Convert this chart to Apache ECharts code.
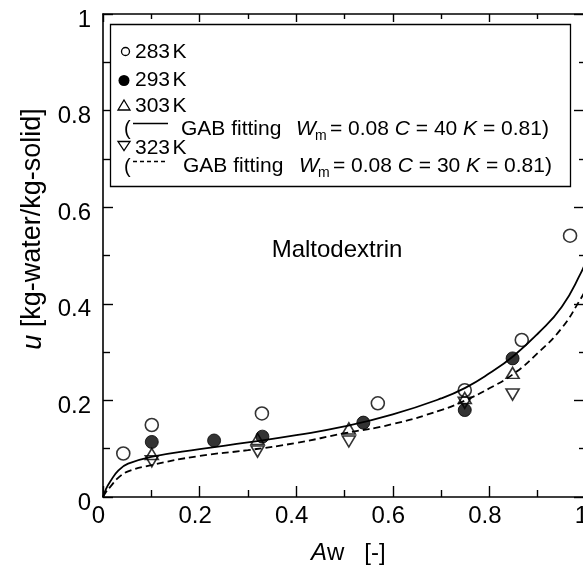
<!DOCTYPE html>
<html>
<head>
<meta charset="utf-8">
<script src="https://cdn.jsdelivr.net/npm/echarts@6/dist/echarts.min.js"></script>
<style>
html,body{margin:0;padding:0;background:#fff;}
#c{width:583px;height:581px;}
</style>
</head>
<body>
<div id="c"></div>
<script>
// ---- data ----
var aw283 = [0.042, 0.101, 0.329, 0.569, 0.749, 0.867, 0.967];
var u283  = [0.090, 0.149, 0.173, 0.194, 0.221, 0.325, 0.541];
var aw293 = [0.101, 0.230, 0.330, 0.539, 0.749, 0.848];
var u293  = [0.114, 0.117, 0.125, 0.154, 0.180, 0.287];
var aw303 = [0.101, 0.320, 0.509, 0.749, 0.848];
var u303  = [0.089, 0.120, 0.142, 0.205, 0.257];
var aw323 = [0.101, 0.320, 0.509, 0.749, 0.848];
var u323  = [0.074, 0.094, 0.115, 0.195, 0.212];
var gabAw = [0, 0.006, 0.015, 0.032, 0.052, 0.1, 0.2, 0.3, 0.4, 0.5, 0.6, 0.7, 0.75, 0.8, 0.85, 0.9, 0.95, 0.99, 1.0];
var gab40 = [0, 0.016, 0.032, 0.055, 0.069, 0.083, 0.099, 0.113, 0.128, 0.146, 0.171, 0.204, 0.226, 0.256, 0.292, 0.338, 0.394, 0.465, 0.49];
var gab30 = [0, 0.010, 0.021, 0.040, 0.053, 0.066, 0.085, 0.097, 0.112, 0.132, 0.151, 0.180, 0.200, 0.225, 0.255, 0.298, 0.350, 0.412, 0.43];
var xTicks = [0, 0.2, 0.4, 0.6, 0.8, 1];
var yTicks = [0, 0.2, 0.4, 0.6, 0.8, 1];

function zip(a, b) { return a.map(function (v, i) { return [v, b[i]]; }); }

var FONT = 'Liberation Sans, Arial, Helvetica, sans-serif';
var chart = echarts.init(document.getElementById('c'), null, {renderer: 'canvas'});

function fmt(v) { return String(+v.toFixed(2)); }

var axisLine = {show: true, onZero: false, lineStyle: {color: '#000', width: 1.6}};

var option = {
  backgroundColor: '#fff',
  animation: false,
  grid: {left: 103, top: 14, width: 483, height: 483, containLabel: false, outerBoundsMode: 'none'},
  xAxis: [{
    type: 'value', min: 0, max: 1, interval: 0.2, position: 'bottom',
    axisLine: axisLine,
    axisTick: {show: true, inside: true, length: 11, lineStyle: {color: '#000', width: 1.4}},
    minorTick: {show: true, splitNumber: 2, length: 7, lineStyle: {color: '#000', width: 1.4}},
    splitLine: {show: false},
    axisLabel: {show: true, color: '#000', fontSize: 24, fontFamily: FONT, margin: 7,
      padding: [0, 9, 0, 0], formatter: function (v) { return xTicks.indexOf(+v.toFixed(2)) >= 0 ? fmt(v) : ''; }}
  }, {
    type: 'value', min: 0, max: 1, interval: 0.2, position: 'top',
    axisLine: axisLine,
    axisTick: {show: true, inside: true, length: 8, lineStyle: {color: '#000', width: 1.4}},
    minorTick: {show: true, splitNumber: 2, length: 5, lineStyle: {color: '#000', width: 1.4}},
    splitLine: {show: false},
    axisLabel: {show: false}
  }],
  yAxis: [{
    type: 'value', min: 0, max: 1, interval: 0.2, position: 'left',
    axisLine: axisLine,
    axisTick: {show: true, inside: true, length: 10, lineStyle: {color: '#000', width: 1.4}},
    minorTick: {show: true, splitNumber: 2, length: 7, lineStyle: {color: '#000', width: 1.4}},
    splitLine: {show: false},
    axisLabel: {show: true, color: '#000', fontSize: 24, fontFamily: FONT, margin: 12,
      verticalAlign: 'top', lineHeight: 12,
      formatter: function (v) { return yTicks.indexOf(+v.toFixed(2)) >= 0 ? fmt(v) : ''; }}
  }, {
    type: 'value', min: 0, max: 1, interval: 0.2, position: 'right',
    axisLine: axisLine,
    axisTick: {show: true, inside: true, length: 12, lineStyle: {color: '#000', width: 1.4}},
    minorTick: {show: true, splitNumber: 2, length: 7, lineStyle: {color: '#000', width: 1.4}},
    splitLine: {show: false},
    axisLabel: {show: false}
  }],
  series: [
    {name: 'GAB C=40', type: 'line', data: zip(gabAw, gab40), smooth: 0.5,
      showSymbol: false, symbol: 'none', lineStyle: {color: '#000', width: 1.8}, z: 2, clip: true},
    {name: 'GAB C=30', type: 'line', data: zip(gabAw, gab30), smooth: 0.5,
      showSymbol: false, symbol: 'none', lineStyle: {color: '#000', width: 1.8, type: [7, 4]}, z: 2, clip: true},
    {name: '323 K', type: 'scatter', data: zip(aw323, u323), symbol: 'triangle', symbolRotate: 180,
      symbolSize: [13, 11], itemStyle: {color: 'rgba(255,255,255,0)', borderColor: '#000', borderWidth: 1.6}, z: 3},
    {name: '303 K', type: 'scatter', data: zip(aw303, u303), symbol: 'triangle',
      symbolSize: [13, 11], itemStyle: {color: 'rgba(255,255,255,0)', borderColor: '#000', borderWidth: 1.6}, z: 3},
    {name: '293 K', type: 'scatter', data: zip(aw293, u293), symbol: 'circle',
      symbolSize: 13, itemStyle: {color: '#000', borderColor: '#000', borderWidth: 1}, z: 3},
    {name: '283 K', type: 'scatter', data: zip(aw283, u283), symbol: 'circle',
      symbolSize: 13, itemStyle: {color: 'rgba(255,255,255,0)', borderColor: '#000', borderWidth: 1.6}, z: 4}
  ],
  graphic: [
    {type: 'rect', z: 100, shape: {x: 110.5, y: 24.5, width: 460, height: 162},
      style: {fill: '#fff', stroke: '#000', lineWidth: 1.3}},
    {type: 'circle', z: 101, shape: {cx: 125.5, cy: 51.5, r: 4}, style: {fill: '#fff', stroke: '#000', lineWidth: 1.3}},
    {type: 'circle', z: 101, shape: {cx: 124, cy: 80.5, r: 5.5}, style: {fill: '#000'}},
    {type: 'polygon', z: 101, shape: {points: [[124, 100], [130, 110], [118, 110]]}, style: {fill: 'none', stroke: '#000', lineWidth: 1.3}},
    {type: 'polygon', z: 101, shape: {points: [[118, 141.5], [130, 141.5], [124, 150.5]]}, style: {fill: 'none', stroke: '#000', lineWidth: 1.3}},
    {type: 'text', z: 101, x: 135, y: 52, style: {text: '283{s| }K', fontSize: 21, fontFamily: FONT, fill: '#000', verticalAlign: 'middle', rich: {s: {fontSize: 9}}}},
    {type: 'text', z: 101, x: 135, y: 80, style: {text: '293{s| }K', fontSize: 21, fontFamily: FONT, fill: '#000', verticalAlign: 'middle', rich: {s: {fontSize: 9}}}},
    {type: 'text', z: 101, x: 135, y: 106, style: {text: '303{s| }K', fontSize: 21, fontFamily: FONT, fill: '#000', verticalAlign: 'middle', rich: {s: {fontSize: 9}}}},
    {type: 'text', z: 101, x: 135, y: 148, style: {text: '323{s| }K', fontSize: 21, fontFamily: FONT, fill: '#000', verticalAlign: 'middle', rich: {s: {fontSize: 9}}}},
    // GAB row 1
    {type: 'text', z: 101, x: 124, y: 129, style: {text: '(', fontSize: 20, fontFamily: FONT, fill: '#000', verticalAlign: 'middle'}},
    {type: 'line', z: 101, shape: {x1: 133, y1: 123.5, x2: 168, y2: 123.5}, style: {stroke: '#000', lineWidth: 1.4}},
    {type: 'text', z: 101, x: 181, y: 129, style: {text: 'GAB fitting', fontSize: 21, fontFamily: FONT, fill: '#000', verticalAlign: 'middle'}},
    {type: 'text', z: 101, x: 296, y: 129, style: {text: 'W', fontSize: 21, fontStyle: 'italic', fontFamily: FONT, fill: '#000', verticalAlign: 'middle'}},
    {type: 'text', z: 101, x: 315, y: 136, style: {text: 'm', fontSize: 14, fontFamily: FONT, fill: '#000', verticalAlign: 'middle'}},
    {type: 'text', z: 101, x: 330, y: 129, style: {text: '= 0.08 {i|C} = 40 {i|K} = 0.81)', fontSize: 21, fontFamily: FONT, fill: '#000', verticalAlign: 'middle',
      rich: {i: {fontSize: 21, fontStyle: 'italic', fontFamily: FONT}}}},
    // GAB row 2
    {type: 'text', z: 101, x: 124, y: 167, style: {text: '(', fontSize: 20, fontFamily: FONT, fill: '#000', verticalAlign: 'middle'}},
    {type: 'line', z: 101, shape: {x1: 133, y1: 161.5, x2: 168, y2: 161.5}, style: {stroke: '#000', lineWidth: 1.4, lineDash: [4, 3]}},
    {type: 'text', z: 101, x: 183, y: 166, style: {text: 'GAB fitting', fontSize: 21, fontFamily: FONT, fill: '#000', verticalAlign: 'middle'}},
    {type: 'text', z: 101, x: 299, y: 166, style: {text: 'W', fontSize: 21, fontStyle: 'italic', fontFamily: FONT, fill: '#000', verticalAlign: 'middle'}},
    {type: 'text', z: 101, x: 318, y: 173, style: {text: 'm', fontSize: 14, fontFamily: FONT, fill: '#000', verticalAlign: 'middle'}},
    {type: 'text', z: 101, x: 333, y: 166, style: {text: '= 0.08 {i|C} = 30 {i|K} = 0.81)', fontSize: 21, fontFamily: FONT, fill: '#000', verticalAlign: 'middle',
      rich: {i: {fontSize: 21, fontStyle: 'italic', fontFamily: FONT}}}},
    // annotation
    {type: 'text', z: 50, x: 337, y: 250, style: {text: 'Maltodextrin', fontSize: 24, fontFamily: FONT, fill: '#000', align: 'center', verticalAlign: 'middle'}},
    // axis names
    {type: 'text', z: 50, x: 311, y: 553, style: {text: '{i|A}w   [-]', fontSize: 24, fontFamily: FONT, fill: '#000', verticalAlign: 'middle',
      rich: {i: {fontSize: 24, fontStyle: 'italic', fontFamily: FONT}}}},
    {type: 'text', z: 50, x: 33, y: 229, rotation: Math.PI / 2, style: {text: '{i|u} [kg-water/kg-solid]', fontSize: 27, fontFamily: FONT, fill: '#000', align: 'center', verticalAlign: 'middle',
      rich: {i: {fontSize: 27, fontStyle: 'italic', fontFamily: FONT}}}}
  ]
};
chart.setOption(option);
</script>
</body>
</html>
